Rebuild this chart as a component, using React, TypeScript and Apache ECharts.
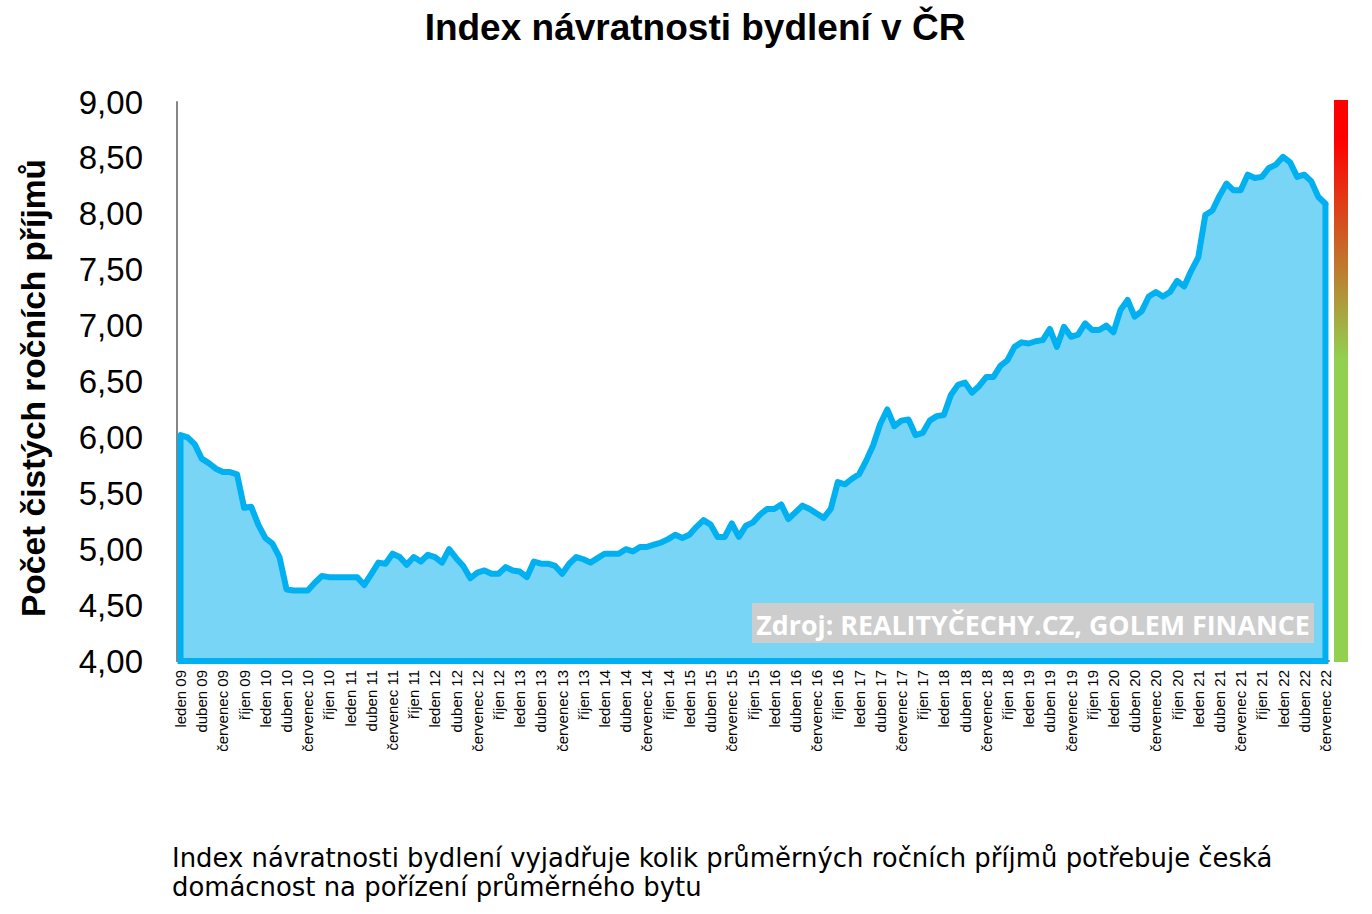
import React, { useEffect, useRef } from "react";
import * as echarts from "echarts";

const TITLE = "Index návratnosti bydlení v ČR";
const Y_NAME = "Počet čistých ročních příjmů";
const SOURCE = "Zdroj: REALITYČECHY.CZ, GOLEM FINANCE";
const NOTE_1 = "Index návratnosti bydlení vyjadřuje kolik průměrných ročních příjmů potřebuje česká";
const NOTE_2 = "domácnost na pořízení průměrného bytu";

const monthNames = [
  "leden", "únor", "březen", "duben", "květen", "červen",
  "červenec", "srpen", "září", "říjen", "listopad", "prosinec",
];
const years = ["09", "10", "11", "12", "13", "14", "15", "16", "17", "18", "19", "20", "21", "22"];
const lastYearMonths = 7; // leden 22 .. červenec 22

const categories: string[] = [];
years.forEach((yy, yi) => {
  const count = yi === years.length - 1 ? lastYearMonths : 12;
  for (let m = 0; m < count; m++) categories.push(`${monthNames[m]} ${yy}`);
});

const values2009 = [6.02, 6.0, 5.94, 5.81, 5.77, 5.72, 5.69, 5.69, 5.67, 5.37, 5.38, 5.22];
const values2010 = [5.1, 5.05, 4.93, 4.64, 4.63, 4.63, 4.63, 4.7, 4.76, 4.75, 4.75, 4.75];
const values2011 = [4.75, 4.75, 4.68, 4.78, 4.88, 4.87, 4.96, 4.93, 4.86, 4.93, 4.89, 4.95];
const values2012 = [4.93, 4.88, 5.0, 4.92, 4.85, 4.74, 4.79, 4.81, 4.78, 4.78, 4.84, 4.81];
const values2013 = [4.8, 4.75, 4.89, 4.87, 4.87, 4.85, 4.78, 4.87, 4.93, 4.91, 4.88, 4.92];
const values2014 = [4.96, 4.96, 4.96, 5.0, 4.98, 5.02, 5.02, 5.04, 5.06, 5.09, 5.13, 5.1];
const values2015 = [5.13, 5.2, 5.26, 5.22, 5.11, 5.11, 5.23, 5.11, 5.21, 5.24, 5.31, 5.36];
const values2016 = [5.36, 5.4, 5.27, 5.33, 5.39, 5.36, 5.32, 5.28, 5.36, 5.6, 5.58, 5.63];
const values2017 = [5.67, 5.79, 5.93, 6.12, 6.25, 6.1, 6.15, 6.16, 6.02, 6.04, 6.15, 6.19];
const values2018 = [6.2, 6.38, 6.47, 6.49, 6.4, 6.46, 6.54, 6.54, 6.64, 6.69, 6.81, 6.85];
const values2019 = [6.84, 6.86, 6.87, 6.97, 6.81, 6.99, 6.9, 6.92, 7.02, 6.96, 6.96, 7.0];
const values2020 = [6.94, 7.14, 7.23, 7.08, 7.13, 7.26, 7.3, 7.26, 7.3, 7.4, 7.35, 7.49];
const values2021 = [7.61, 7.99, 8.03, 8.16, 8.27, 8.21, 8.21, 8.35, 8.32, 8.33, 8.41, 8.44];
const values2022 = [8.51, 8.46, 8.33, 8.35, 8.29, 8.15, 8.09];

const values = [
  ...values2009, ...values2010, ...values2011, ...values2012, ...values2013,
  ...values2014, ...values2015, ...values2016, ...values2017, ...values2018,
  ...values2019, ...values2020, ...values2021, ...values2022,
];

const Y_MIN = 4;
const Y_MAX = 9;
const Y_STEP = 0.5;

export default function App() {
  const ref = useRef<HTMLDivElement>(null);

  useEffect(() => {
    if (!ref.current) return;
    const chart = echarts.init(ref.current, null, { renderer: "svg" });
    const last = values.length - 1;

    chart.setOption({
      animation: false,
      backgroundColor: "#ffffff",
      grid: { left: 177, right: 43, top: 102, bottom: 253, containLabel: false },
      xAxis: {
        type: "category",
        data: categories,
        boundaryGap: true,
        axisLine: { show: true, lineStyle: { color: "#868686", width: 2 } },
        axisTick: { show: false },
        axisLabel: {
          interval: 2,
          rotate: 90,
          margin: 9,
          color: "#000000",
          fontFamily: "Liberation Sans, Arial, sans-serif",
          fontSize: 15,
        },
        splitLine: { show: false },
      },
      yAxis: {
        type: "value",
        min: Y_MIN,
        max: Y_MAX,
        interval: Y_STEP,
        axisLine: { show: true, lineStyle: { color: "#868686", width: 2 } },
        axisTick: { show: false },
        splitLine: { show: false },
        axisLabel: {
          margin: 34,
          color: "#000000",
          fontFamily: "Liberation Sans, Arial, sans-serif",
          fontSize: 33,
          formatter: (v: number) => v.toFixed(2).replace(".", ","),
        },
      },
      series: [
        {
          type: "line",
          data: values,
          symbol: "none",
          z: 3,
          lineStyle: { color: "#00b0f0", width: 6, join: "round", cap: "round" },
          areaStyle: { color: "#79d5f5", opacity: 1 },
        },
        {
          type: "custom",
          z: 4,
          data: [[0]],
          renderItem: (_params: any, api: any) => {
            const points = [
              api.coord([0, values[0]]),
              api.coord([0, Y_MIN]),
              api.coord([last, Y_MIN]),
              api.coord([last, values[last]]),
            ];
            return {
              type: "polyline",
              shape: { points },
              style: { stroke: "#00b0f0", lineWidth: 6, fill: null, lineJoin: "miter" },
            };
          },
        },
      ],
      graphic: [
        {
          type: "text",
          x: 695,
          y: 27,
          style: {
            text: TITLE,
            fill: "#000000",
            font: "bold 37px 'Liberation Sans', Arial, sans-serif",
            textAlign: "center",
            textVerticalAlign: "middle",
          },
        },
        {
          type: "text",
          x: 33,
          y: 388,
          rotation: Math.PI / 2,
          style: {
            text: Y_NAME,
            fill: "#000000",
            font: "bold 33.5px 'Liberation Sans', Arial, sans-serif",
            textAlign: "center",
            textVerticalAlign: "middle",
          },
        },
        {
          type: "rect",
          z: 10,
          shape: { x: 752, y: 603, width: 562, height: 40 },
          style: { fill: "#cdcdcd" },
        },
        {
          type: "text",
          z: 11,
          x: 1033,
          y: 624,
          style: {
            text: SOURCE,
            fill: "#ffffff",
            font: "bold 26.8px 'Open Sans', 'Liberation Sans', sans-serif",
            textAlign: "center",
            textVerticalAlign: "middle",
          },
        },
        {
          type: "rect",
          shape: { x: 1334, y: 100, width: 14, height: 562 },
          style: {
            fill: new echarts.graphic.LinearGradient(0, 0, 0, 1, [
              { offset: 0, color: "#ff0000" },
              { offset: 0.07, color: "#ff0000" },
              { offset: 0.46, color: "#92d050" },
              { offset: 1, color: "#92d050" },
            ]),
          },
        },
        {
          type: "text",
          x: 172,
          y: 858,
          style: {
            text: NOTE_1,
            fill: "#000000",
            font: "25.9px 'DejaVu Sans', sans-serif",
            textAlign: "left",
            textVerticalAlign: "middle",
          },
        },
        {
          type: "text",
          x: 172,
          y: 887,
          style: {
            text: NOTE_2,
            fill: "#000000",
            font: "25.9px 'DejaVu Sans', sans-serif",
            textAlign: "left",
            textVerticalAlign: "middle",
          },
        },
      ],
    });

    return () => chart.dispose();
  }, []);

  return <div ref={ref} style={{ width: 1372, height: 914, position: "absolute", left: 0, top: 0 }} />;
}
